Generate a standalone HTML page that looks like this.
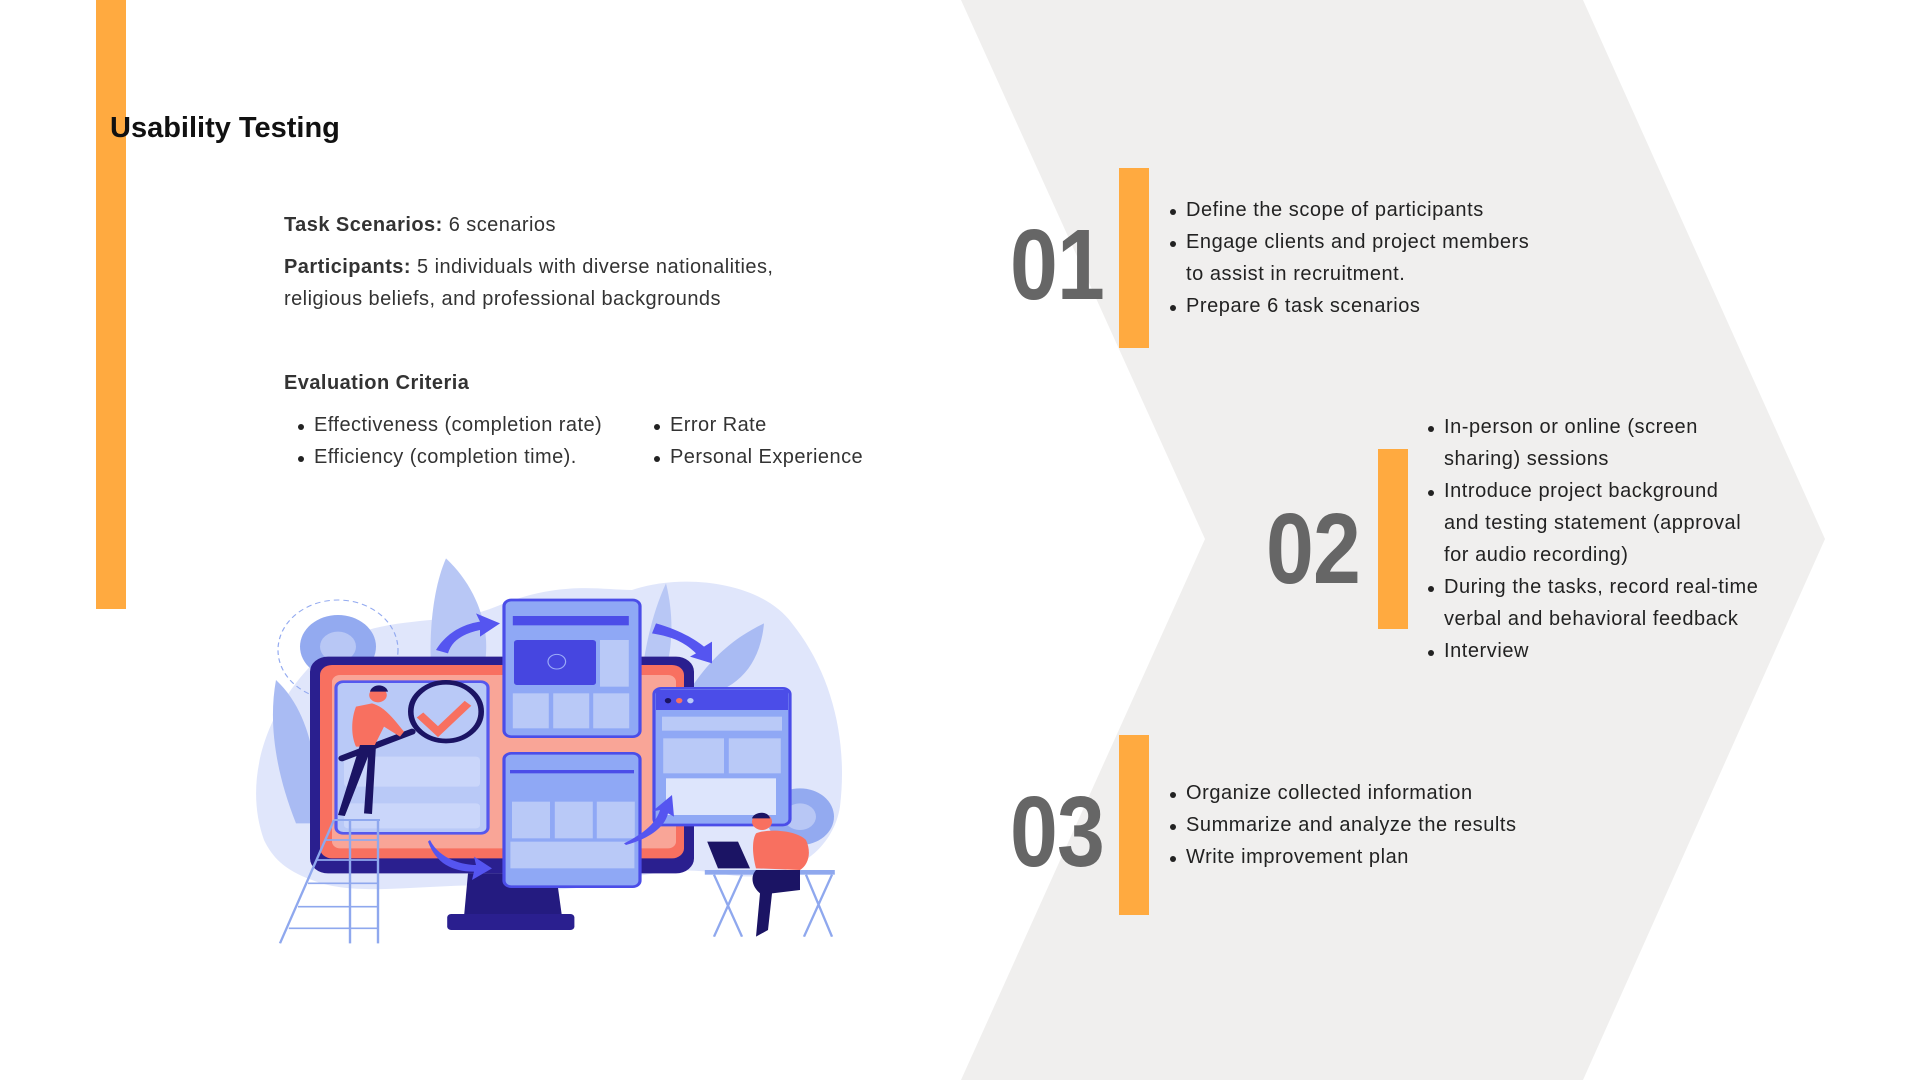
<!DOCTYPE html>
<html><head><meta charset="utf-8"><style>
body{margin:0;width:1920px;height:1080px;position:relative;background:#fff;overflow:hidden;font-family:"Liberation Sans",sans-serif;color:#222}
.a{position:absolute;white-space:nowrap}
.t{font-size:20px;color:#333;letter-spacing:0.45px}
.num{position:absolute;font-family:"Liberation Sans",sans-serif;font-weight:bold;font-size:100px;color:#666;line-height:1;transform:scaleX(0.86);transform-origin:left top;letter-spacing:-1px}
.bar{position:absolute;background:#ffaa40}
.li{position:absolute;font-size:20px;color:#222;white-space:nowrap;letter-spacing:0.55px}
.li:before{content:"";position:absolute;left:-16px;top:10px;width:6px;height:6px;border-radius:50%;background:#222}
</style></head><body>
<svg class="a" style="left:0;top:0" width="1920" height="1080"><polygon points="961,0 1583,0 1825,539 1583,1080 961,1080 1205,539" fill="#f0efee"/></svg>
<div class="bar" style="left:96px;top:0;width:30px;height:609px"></div>
<div class="a" style="left:110px;top:112px;font-size:29px;font-weight:bold;color:#111">Usability Testing</div>
<div class="a t" style="left:284px;top:214px"><b>Task Scenarios:</b> 6 scenarios</div>
<div class="a t" style="left:284px;top:256px"><b>Participants:</b> 5 individuals with diverse nationalities,</div>
<div class="a t" style="left:284px;top:288px">religious beliefs, and professional backgrounds</div>
<div class="a t" style="left:284px;top:372px"><b>Evaluation Criteria</b></div>
<div class="li" style="left:314px;top:414px;color:#333;letter-spacing:0.45px">Effectiveness (completion rate)</div>
<div class="li" style="left:314px;top:446px;color:#333;letter-spacing:0.45px">Efficiency (completion time).</div>
<div class="li" style="left:670px;top:414px;color:#333;letter-spacing:0.45px">Error Rate</div>
<div class="li" style="left:670px;top:446px;color:#333;letter-spacing:0.45px">Personal Experience</div>

<div class="num" style="left:1010px;top:215px">01</div>
<div class="bar" style="left:1119px;top:168px;width:30px;height:180px"></div>
<div class="li" style="left:1186px;top:199px">Define the scope of participants</div>
<div class="li" style="left:1186px;top:231px">Engage clients and project members</div>
<div class="a t" style="left:1186px;top:263px;color:#222;letter-spacing:0.55px">to assist in recruitment.</div>
<div class="li" style="left:1186px;top:295px">Prepare 6 task scenarios</div>

<div class="num" style="left:1266px;top:499px">02</div>
<div class="bar" style="left:1378px;top:449px;width:30px;height:180px"></div>
<div class="li" style="left:1444px;top:416px">In-person or online (screen</div>
<div class="a t" style="left:1444px;top:448px;color:#222;letter-spacing:0.55px">sharing) sessions</div>
<div class="li" style="left:1444px;top:480px">Introduce project background</div>
<div class="a t" style="left:1444px;top:512px;color:#222;letter-spacing:0.55px">and testing statement (approval</div>
<div class="a t" style="left:1444px;top:544px;color:#222;letter-spacing:0.55px">for audio recording)</div>
<div class="li" style="left:1444px;top:576px">During the tasks, record real-time</div>
<div class="a t" style="left:1444px;top:608px;color:#222;letter-spacing:0.55px">verbal and behavioral feedback</div>
<div class="li" style="left:1444px;top:640px">Interview</div>

<div class="num" style="left:1010px;top:782px">03</div>
<div class="bar" style="left:1119px;top:735px;width:30px;height:180px"></div>
<div class="li" style="left:1186px;top:782px">Organize collected information</div>
<div class="li" style="left:1186px;top:814px">Summarize and analyze the results</div>
<div class="li" style="left:1186px;top:846px">Write improvement plan</div>

<svg class="a" style="left:240px;top:540px" width="620" height="420" viewBox="0 0 1550 1260" preserveAspectRatio="none">
<path d="M60,900 C0,700 80,450 250,300 C400,220 520,260 640,200 C800,120 900,150 980,150 C1100,100 1300,120 1380,250 C1480,400 1520,600 1500,800 C1480,950 1350,1040 1200,1000 C1000,960 900,1080 700,1040 C500,1020 300,1080 180,1020 C110,990 80,950 60,900Z" fill="#e0e6fb"/>
<path d="M515,55 C600,150 640,300 600,420 L480,420 C470,300 480,150 515,55Z" fill="#b8c7f5"/>
<path d="M1065,130 C1090,250 1080,380 1040,450 L1000,450 C1010,330 1030,220 1065,130Z" fill="#b8c7f5"/>
<path d="M1310,250 C1300,380 1240,450 1150,470 L1130,440 C1180,350 1240,290 1310,250Z" fill="#a9bbf3"/>
<path d="M90,420 C180,520 200,700 190,850 L140,850 C90,700 70,550 90,420Z" fill="#a9bbf3"/>
<circle cx="245" cy="320" r="95" fill="#93aaf0"/><circle cx="245" cy="320" r="45" fill="#b8c7f5"/>
<circle cx="1400" cy="830" r="85" fill="#93aaf0"/><circle cx="1400" cy="830" r="40" fill="#b8c7f5"/>
<circle cx="245" cy="330" r="150" fill="none" stroke="#93aaf0" stroke-width="3" stroke-dasharray="14 10"/>
<path d="M570,1000 L790,1000 L805,1130 L560,1130Z" fill="#241b80"/>
<rect x="518" y="1122" width="318" height="48" rx="10" fill="#2a1f8f"/>
<rect x="175" y="350" width="960" height="650" rx="45" fill="#2a1f8f"/>
<rect x="200" y="375" width="910" height="580" rx="30" fill="#f87060"/>
<rect x="230" y="405" width="860" height="520" rx="20" fill="#f9a597"/>
<rect x="240" y="425" width="380" height="455" rx="18" fill="#b9c9f7" stroke="#5558ee" stroke-width="8"/>
<rect x="260" y="650" width="340" height="90" rx="10" fill="#cad6fa"/>
<rect x="260" y="790" width="340" height="75" rx="10" fill="#cad6fa"/>
<rect x="660" y="180" width="340" height="410" rx="18" fill="#8fa8f5" stroke="#4b4de8" stroke-width="8"/>
<rect x="682" y="228" width="290" height="28" fill="#4b4de8"/>
<rect x="685" y="300" width="205" height="135" rx="8" fill="#4646e0"/>
<circle cx="792" cy="365" r="22" fill="none" stroke="#9aaaf8" stroke-width="3"/>
<rect x="900" y="300" width="72" height="140" fill="#b9c9f7"/>
<rect x="682" y="460" width="90" height="105" fill="#b9c9f7"/><rect x="783" y="460" width="90" height="105" fill="#b9c9f7"/><rect x="883" y="460" width="90" height="105" fill="#b9c9f7"/>
<rect x="660" y="640" width="340" height="400" rx="18" fill="#8fa8f5" stroke="#4b4de8" stroke-width="8"/>
<rect x="675" y="690" width="310" height="10" fill="#4b4de8"/>
<rect x="680" y="785" width="95" height="110" fill="#b9c9f7"/><rect x="787" y="785" width="95" height="110" fill="#b9c9f7"/><rect x="892" y="785" width="95" height="110" fill="#b9c9f7"/>
<rect x="676" y="905" width="310" height="80" fill="#b9c9f7"/>
<rect x="1035" y="445" width="340" height="410" rx="18" fill="#8fa8f5" stroke="#4b4de8" stroke-width="8"/>
<rect x="1040" y="450" width="330" height="60" fill="#4b4de8"/>
<circle cx="1070" cy="482" r="8" fill="#1b1464"/><circle cx="1098" cy="482" r="8" fill="#f87060"/><circle cx="1126" cy="482" r="8" fill="#b9c9f7"/>
<rect x="1055" y="530" width="300" height="42" fill="#b9c9f7"/>
<rect x="1058" y="595" width="152" height="105" fill="#b9c9f7"/><rect x="1222" y="595" width="130" height="105" fill="#b9c9f7"/>
<rect x="1065" y="715" width="275" height="110" fill="#dde5fc"/>
<path d="M490,330 C520,270 570,250 600,245 L590,220 L650,250 L600,290 L600,270 C560,280 530,300 520,340Z" fill="#5555f0"/>
<path d="M1040,250 C1100,270 1140,300 1160,320 L1180,305 L1180,370 L1125,350 L1140,340 C1110,305 1080,290 1030,280Z" fill="#5555f0"/>
<path d="M475,900 C500,960 560,975 590,975 L585,950 L630,985 L580,1020 L585,995 C530,995 490,970 470,905Z" fill="#5555f0"/>
<path d="M960,910 C1010,880 1040,850 1050,810 L1030,815 L1080,765 L1085,830 L1070,820 C1060,870 1010,900 965,915Z" fill="#5555f0"/>
<circle cx="515" cy="515" r="88" fill="none" stroke="#1b1464" stroke-width="14"/>
<path d="M450,525 L495,575 L570,490" fill="none" stroke="#f87060" stroke-width="22"/>
<path d="M255,655 L430,575" stroke="#1b1464" stroke-width="18" stroke-linecap="round"/>
<path d="M290,500 C280,530 275,580 290,620 L335,620 L360,560 L400,590 L410,575 C380,530 360,500 330,490Z" fill="#f87060"/>
<circle cx="345" cy="465" r="22" fill="#f87060"/><path d="M325,455 C330,430 365,430 370,455Z" fill="#1b1464"/>
<path d="M300,615 L245,825 L262,828 L320,650 L310,820 L330,822 L340,615Z" fill="#1b1464"/>
<path d="M235,840 L350,840 M235,840 L100,1210 M345,840 L345,1210 M275,840 L275,1210" stroke="#8fa8ee" stroke-width="6"/>
<path d="M215,900 L345,900 M192,960 L345,960 M170,1030 L345,1030 M145,1100 L345,1100 M122,1165 L345,1165" stroke="#8fa8ee" stroke-width="5"/>
<rect x="1162" y="990" width="325" height="14" fill="#8fa8ee"/>
<path d="M1185,1004 L1255,1190 M1255,1004 L1185,1190 M1415,1004 L1480,1190 M1480,1004 L1410,1190" stroke="#8fa8ee" stroke-width="6"/>
<path d="M1168,905 L1245,905 L1275,985 L1195,985Z" fill="#1b1464"/>
<path d="M1290,880 C1320,865 1390,870 1415,900 C1430,940 1420,975 1400,990 L1290,985 C1280,940 1280,900 1290,880Z" fill="#f87060"/>
<circle cx="1305" cy="845" r="25" fill="#f87060"/><path d="M1280,835 C1285,815 1320,810 1325,835Z" fill="#1b1464"/>
<path d="M1290,990 L1400,990 L1400,1050 L1330,1060 L1320,1170 L1290,1190 L1300,1060 C1280,1040 1275,1010 1290,990Z" fill="#1b1464"/>
</svg>
</body></html>
